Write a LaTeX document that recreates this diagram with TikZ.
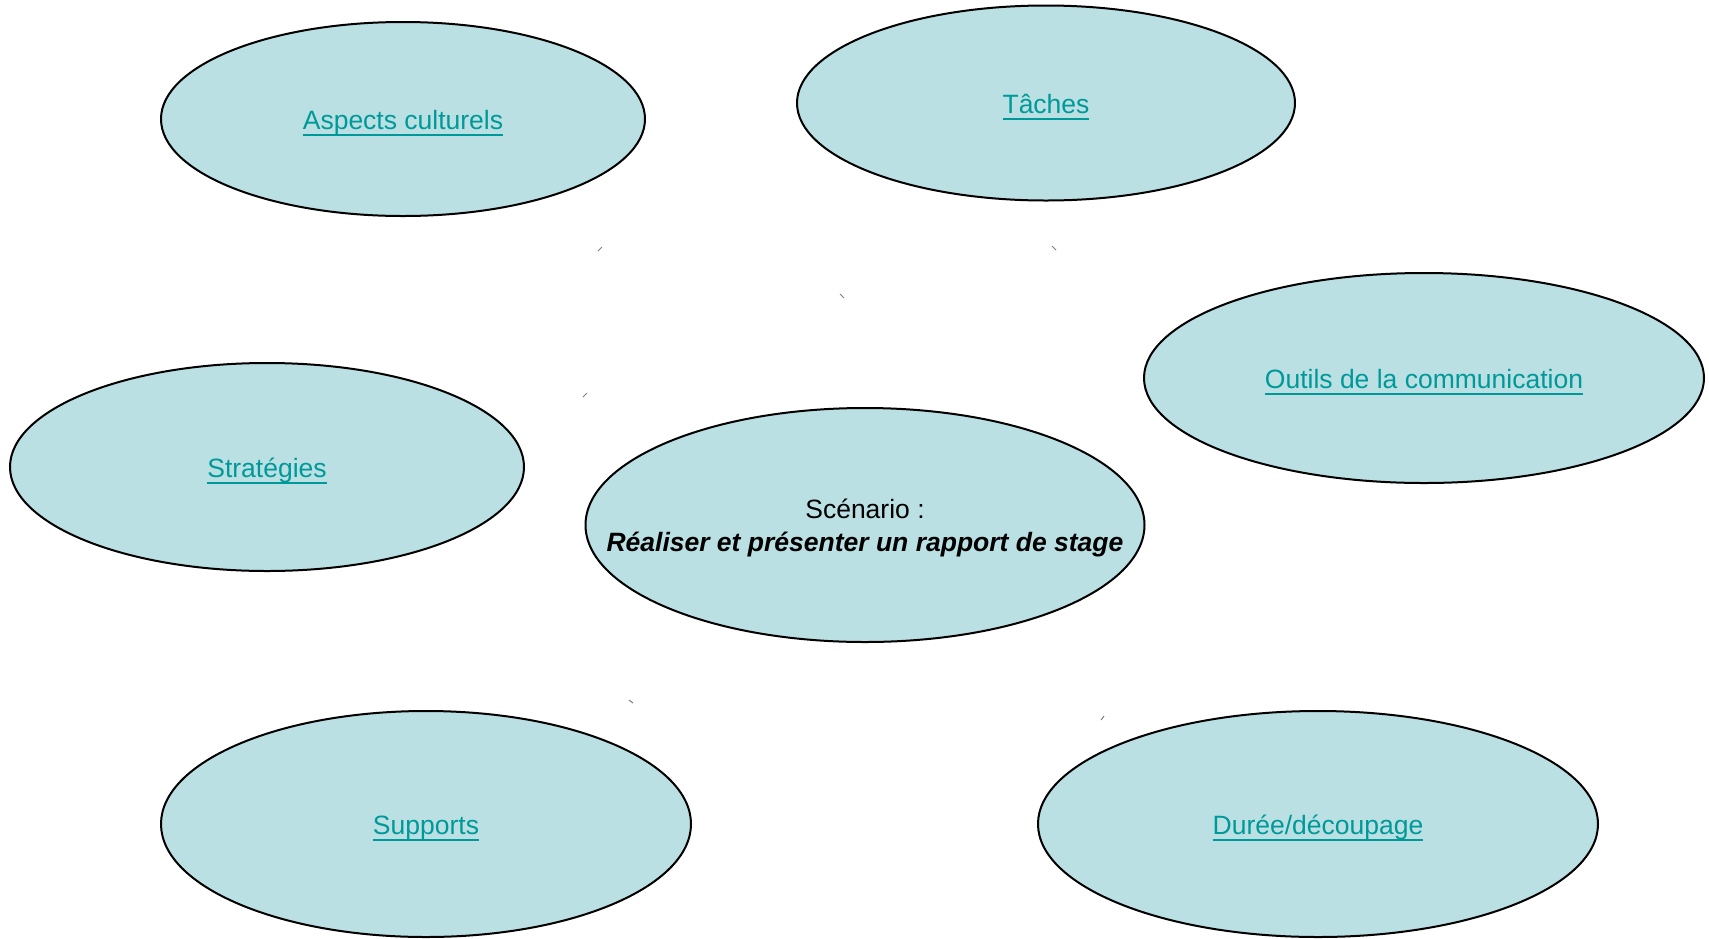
\documentclass[tikz,border=0pt]{standalone}
\usepackage{fontspec}
\setmainfont{Liberation Sans}
\usetikzlibrary{shapes.geometric}
\definecolor{bubblefill}{RGB}{186,224,227}
\definecolor{linkc}{RGB}{0,153,153}
\newcommand\lnk[1]{\raisebox{-10.5pt}[0pt][0pt]{\textcolor{linkc}{\setbox0\hbox{#1}\rlap{\rule[-6pt]{\wd0}{2pt}}\box0}}}
\tikzset{
  bubble/.style={ellipse, draw=black, line width=2pt, fill=bubblefill, inner sep=0pt, align=center,
    font=\fontsize{26.5}{33}\selectfont},
  tick/.style={draw=gray, line width=1pt}
}
\begin{document}
\begin{tikzpicture}[x=1pt,y=-1pt]
\useasboundingbox[fill=white] (0,0) rectangle (1709,938);
\node[bubble, minimum width=484pt, minimum height=194pt] (asp) at (403,119) {\lnk{Aspects culturels}};
\node[bubble, minimum width=498pt, minimum height=195pt] (tac) at (1046,103) {\lnk{Tâches}};
\node[bubble, minimum width=560pt, minimum height=210pt] (out) at (1424,378) {\lnk{Outils de la communication}};
\node[bubble, minimum width=514pt, minimum height=208pt] (str) at (267,467) {\lnk{Stratégies}};
\node[bubble, minimum width=559pt, minimum height=234pt, inner xsep=-80pt] (sce) at (865,525)
  {\raisebox{-10pt}[0pt][0pt]{\begin{tabular}{@{}c@{}}Scénario :\\\textbf{\textit{Réaliser et présenter un rapport de stage}}\end{tabular}}};
\node[bubble, minimum width=530pt, minimum height=226pt] (sup) at (426,824) {\lnk{Supports}};
\node[bubble, minimum width=560pt, minimum height=226pt] (dur) at (1318,824) {\lnk{Durée/découpage}};
% residual tick marks
\coordinate (t1a) at (598,251); \coordinate (t1b) at (602,247);
\coordinate (t2a) at (1052,246); \coordinate (t2b) at (1056,250);
\coordinate (t3a) at (840,294); \coordinate (t3b) at (844,298);
\coordinate (t4a) at (583,397); \coordinate (t4b) at (587,393);
\coordinate (t5a) at (629,700); \coordinate (t5b) at (633,703);
\coordinate (t6a) at (1101,720); \coordinate (t6b) at (1104,716);
\draw[tick] (t1a) -- (t1b);
\draw[tick] (t2a) -- (t2b);
\draw[tick] (t3a) -- (t3b);
\draw[tick] (t4a) -- (t4b);
\draw[tick] (t5a) -- (t5b);
\draw[tick] (t6a) -- (t6b);
\end{tikzpicture}
\end{document}
